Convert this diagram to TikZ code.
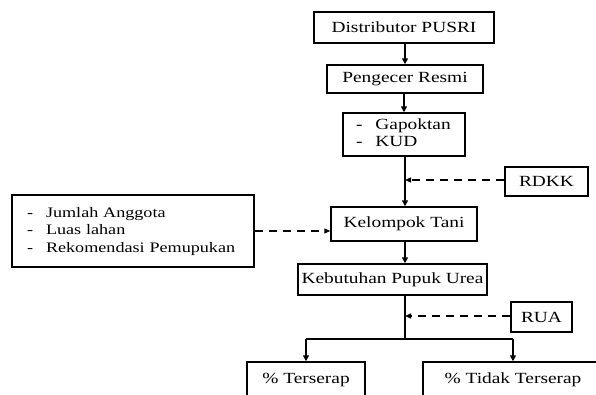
\documentclass[tikz,border=0pt]{standalone}
\usepackage{fontspec}
\setmainfont[FakeStretch=1.25]{Liberation Serif}
\usetikzlibrary{arrows.meta}
\begin{document}
\begin{tikzpicture}[x=1pt,y=-1pt,
  box/.style={draw,line width=1.5pt,inner sep=0pt,font=\fontsize{15.5}{17.5}\selectfont},
  arr/.style={line width=1.5pt,-{Triangle[length=6pt,width=6pt]}},
  darr/.style={line width=1.3pt,dash pattern=on 8pt off 6pt,-{Triangle[length=6pt,width=5pt]}}]
\useasboundingbox (0,0) rectangle (596,394);
\clip (0,0) rectangle (596,394);
\node[box,minimum width=180pt,minimum height=31pt] (dist) at (404,27.5) {Distributor PUSRI};
\node[box,minimum width=156pt,minimum height=28pt] (peng) at (405,79) {Pengecer Resmi};
\node[box,minimum width=122pt,minimum height=43pt,text width=122pt,align=left] (gap) at (404,134.5)
  {\begin{tabular}{@{\hspace{13pt}}l@{\hspace{13pt}}l@{}}-&Gapoktan\\ -&KUD\end{tabular}};
\node[box,minimum width=83pt,minimum height=29pt] (rdkk) at (546.5,181.5) {RDKK};
\node[box,minimum width=146pt,minimum height=34pt] (kt) at (404,224) {Kelompok Tani};
\node[box,minimum width=242pt,minimum height=72pt,text width=242pt,align=left,font=\fontsize{14.5}{17.5}\selectfont] (left) at (133,231)
  {\begin{tabular}{@{\hspace{15pt}}l@{\hspace{13pt}}l@{}}-&Jumlah Anggota\\ -&Luas lahan\\ -&Rekomendasi Pemupukan\end{tabular}};
\node[box,minimum width=189pt,minimum height=31pt] (keb) at (392.5,279.5) {Kebutuhan Pupuk Urea};
\node[box,minimum width=61pt,minimum height=30pt] (rua) at (541.5,317) {RUA};
\node[box,minimum width=118pt,minimum height=36pt] (ts) at (306,380) {\% Terserap};
\node[box,minimum width=180pt,minimum height=36pt] (tts) at (513,380) {\% Tidak Terserap};
\coordinate (j1) at (405,180);
\coordinate (j2) at (405,316);
\coordinate (j3) at (405,339);
\draw[arr] (dist.south -| peng.north) -- (peng.north);
\draw[arr] (peng.south -| gap.north) -- (gap.north);
\draw[arr] (gap.south -| j1) -- (kt.north -| j1);
\draw[darr] (rdkk.west |- j1) -- (j1);
\draw[darr] (left.east) -- (kt.west |- left.east);
\draw[arr] (kt.south -| j2) -- (keb.north -| j2);
\draw[line width=1.5pt] (keb.south -| j3) -- (j3);
\draw[darr] (rua.west |- j2) -- (j2);
\draw[line width=1.5pt] (ts.north |- j3) -- (tts.north |- j3);
\draw[arr] (ts.north |- j3) -- (ts.north);
\draw[arr] (tts.north |- j3) -- (tts.north);
\end{tikzpicture}
\end{document}
